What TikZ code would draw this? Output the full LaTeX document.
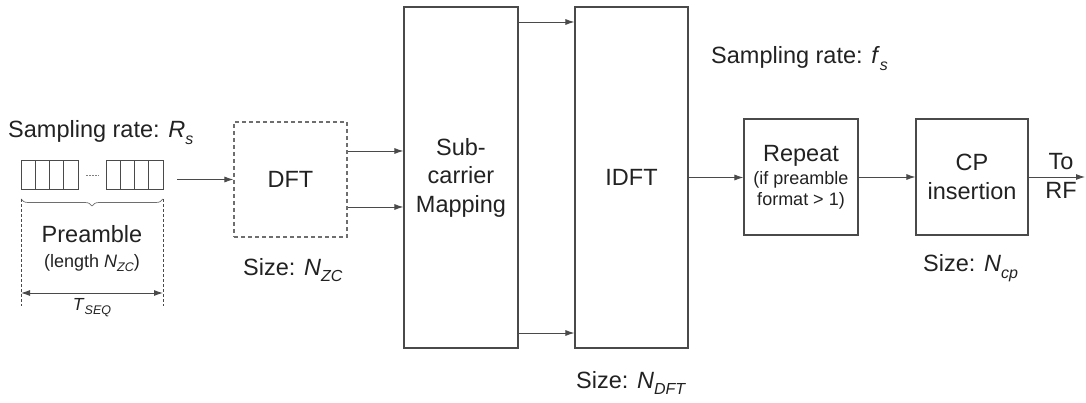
\documentclass[tikz,border=0pt]{standalone}
\usepackage{fontspec}
\setmainfont{Liberation Sans}
\usetikzlibrary{arrows.meta,decorations.pathreplacing}
\definecolor{txt}{HTML}{222222}
\definecolor{ln}{HTML}{4A4A4A}
\newcommand{\sbs}[1]{\raisebox{-0.5ex}{\fontsize{16}{16}\selectfont\itshape #1}}
\newcommand{\ssbs}[1]{\raisebox{-0.5ex}{\fontsize{12.5}{12.5}\selectfont\itshape #1}}
\begin{document}
\begin{tikzpicture}[x=1pt,y=-1pt,
  every node/.style={text=txt, font=\fontsize{23.5}{28.5}\selectfont},
  blk/.style={draw=ln, line width=1.1pt, inner sep=0pt, align=center},
  arr/.style={draw=ln, line width=0.9pt, -{Latex[length=9pt,width=6pt]}},
  lbl/.style={anchor=base west, inner sep=0pt},
  small/.style={font=\fontsize{18}{20}\selectfont}]
\useasboundingbox (0,0) rectangle (1086,403);

% preamble cells
\foreach \i in {0,1,2,3}{
  \draw[ln, line width=0.8pt] (21+14.25*\i,160) rectangle (21+14.25*\i+14.25,189);
  \draw[ln, line width=0.8pt] (106+14.25*\i,160) rectangle (106+14.25*\i+14.25,189);
}
\draw[ln!70, line width=0.6pt, dash pattern=on 2pt off 1pt] (86,175) -- (99,175);
\draw[ln!80, line width=0.7pt, decorate, decoration={brace, amplitude=7pt}] (163,199) -- (21,199);
\draw[ln, line width=0.6pt, dash pattern=on 3pt off 2pt] (21,199) -- (21,306);
\draw[ln, line width=0.6pt, dash pattern=on 3pt off 2pt] (163,199) -- (163,306);
\draw[ln, line width=0.9pt, {Latex[length=9pt,width=6pt]}-{Latex[length=9pt,width=6pt]}] (21,293) -- (163,293);

\node[lbl] (srR) at (8,138) {Sampling rate: \textit{R}\sbs{s}};
\node[anchor=base, inner sep=0pt] (pre) at (92,243) {Preamble};
\node[anchor=base, inner sep=0pt, small] (len) at (92,267) {(length \textit{N}\ssbs{ZC})};
\node[anchor=base, inner sep=0pt, font=\fontsize{17.5}{20}\selectfont] (tseq) at (92,310) {\textit{T}\ssbs{SEQ}};

% blocks
\node[blk, draw=ln!80, dash pattern=on 4pt off 3pt, minimum width=113pt, minimum height=115pt] (dft) at (290.5,179.5) {DFT};
\node[blk, minimum width=114pt, minimum height=341pt] (sub) at (461,177.5) {Sub-\\carrier\\Mapping};
\node[blk, minimum width=113pt, minimum height=341pt] (idft) at (631.5,177.5) {IDFT};
\node[blk, minimum width=114pt, minimum height=116pt] (rep) at (801,177) {Repeat\\[-5pt]{\fontsize{18}{20}\selectfont (if preamble}\\[-8pt]{\fontsize{18}{20}\selectfont format {>} 1)}};
\node[blk, minimum width=112pt, minimum height=116pt] (cp) at (972,177) {CP\\insertion};

\node[lbl] (szzc) at (243,275) {Size: \textit{N}\sbs{ZC}};
\node[lbl] (szdft) at (576,388) {Size: \textit{N}\sbs{DFT}};
\node[lbl] (sr) at (711,64) {Sampling rate: \textit{f}\sbs{s}};
\node[lbl] (szcp) at (923,272) {Size: \textit{N}\sbs{cp}};
\node[anchor=base, inner sep=0pt] (to) at (1061,170) {To};
\node[anchor=base, inner sep=0pt] (rf) at (1061,199) {RF};

% connectors
\coordinate (prein) at (177,179.5);
\coordinate (out) at (1085,177);
\draw[arr] (prein) -- (dft.west);
\draw[arr] ([yshift=28.5pt]dft.east) -- ([yshift=28.5pt]dft.east -| sub.west);
\draw[arr] ([yshift=-27.5pt]dft.east) -- ([yshift=-27.5pt]dft.east -| sub.west);
\draw[arr] ([yshift=155.5pt]sub.east) -- ([yshift=155.5pt]idft.west);
\draw[arr] ([yshift=-155.5pt]sub.east) -- ([yshift=-155.5pt]idft.west);
\draw[arr] (idft.east) -- (idft.east -| rep.west);
\draw[arr] (rep.east) -- (cp.west);
\draw[arr] (cp.east) -- (out);
\end{tikzpicture}
\end{document}
